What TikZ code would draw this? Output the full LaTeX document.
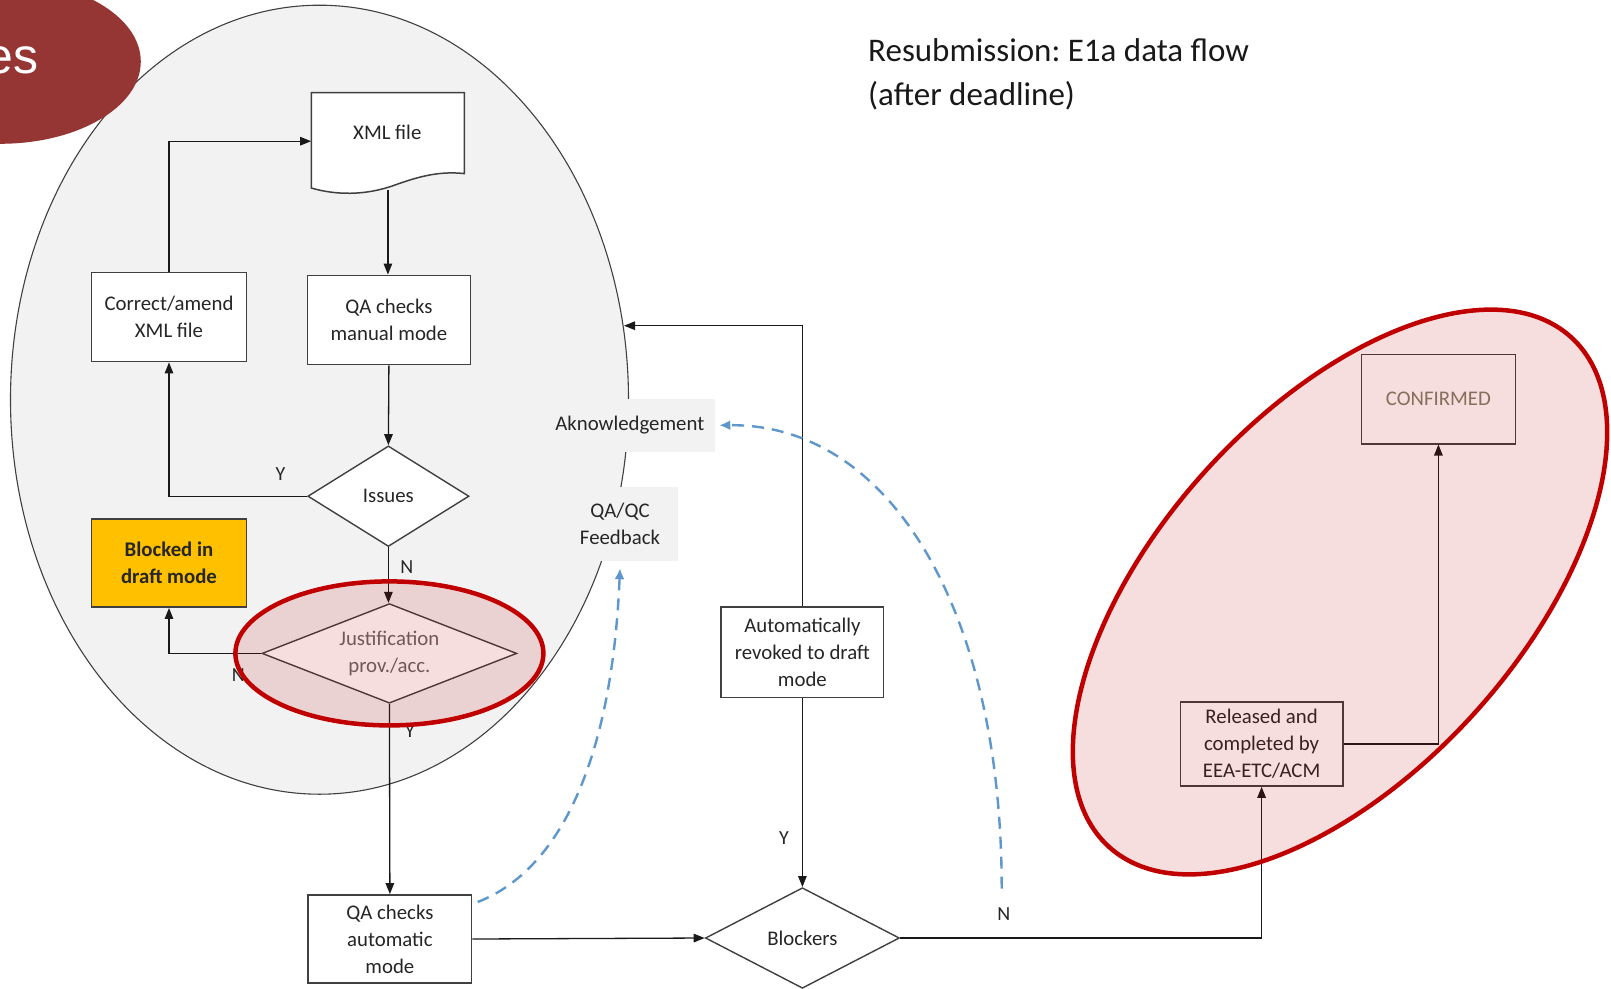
\documentclass[tikz,border=0pt]{standalone}
\usepackage{fontspec}
\setmainfont{Carlito}
\newfontfamily\arialfont{Liberation Sans}
\usetikzlibrary{arrows.meta,shapes.geometric}
\definecolor{ellgrey}{HTML}{F2F2F2}
\definecolor{edge}{HTML}{404040}
\definecolor{txt}{HTML}{262626}
\definecolor{darkred}{HTML}{C00000}
\definecolor{blob}{HTML}{963634}
\definecolor{amber}{HTML}{FFC000}
\definecolor{dashblue}{HTML}{5E97CB}
\definecolor{olivegrey}{HTML}{7F7F6A}
\frenchspacing
\begin{document}
\begin{tikzpicture}[x=1pt,y=-1pt,
 every node/.style={font=\fontsize{20.8}{27}\selectfont, text=txt},
 procbox/.style={draw=edge, line width=1.5pt, fill=white, align=center, inner sep=0pt},
 decision/.style={diamond, draw=edge, line width=1.4pt, fill=white, align=center, inner sep=0pt, aspect=2.5},
 conn/.style={draw=black!90, line width=1.3pt, -{Triangle[length=11pt,width=8.5pt]}},
 flag/.style={font=\fontsize{20}{24}\selectfont},
 tag/.style={fill=ellgrey, align=center, inner sep=0pt},
 feedback/.style={draw=dashblue, line width=2.4pt, dash pattern=on 12pt off 8pt, -{Latex[length=11pt,width=10pt]}},
 ring/.style={draw=darkred, line width=4.5pt, fill=darkred, fill opacity=0.13},
]
\useasboundingbox (0,0) rectangle (1611,988);
\clip (0,0) rectangle (1611,988);
\fill[white] (0,0) rectangle (1611,988);

% big grey region
\draw[fill=ellgrey, draw=edge, line width=1.1pt] (319.5,399.7) ellipse [x radius=309pt, y radius=394.5pt];

% red blob top-left
\fill[blob] (0,61.6) ellipse [x radius=140.8pt, y radius=82.2pt];
\node[anchor=east, inner sep=0pt, text=white, font=\arialfont\fontsize{50}{50}\selectfont] (blobtext) at (39,60) {es};

% title
\node[anchor=west, align=left, font=\fontsize{33}{44}\selectfont, text=black!90, inner sep=0pt] (title) at (868,74.5) {Resubmission: E1a data flow\\(after deadline)};

% XML document shape
\path[procbox] (311.3,92.5) -- (464.4,92.5) -- (464.4,173.6) .. controls (440,171) and (420,176) .. (395,185) .. controls (365,196) and (335,195) .. (311.3,188) -- cycle;
\node[inner sep=0pt, minimum width=153.1pt, minimum height=97.5pt] (xml) at (387.9,141.2) {};
\node (xmltext) at (387.3,132.5) {XML file};

% process boxes
\node[procbox, minimum width=155.2pt, minimum height=89.3pt] (correct) at (169,317) {Correct/amend\\XML file};
\node[procbox, minimum width=163.3pt, minimum height=89.4pt] (qam) at (388.9,320) {QA checks\\manual mode};
\node[decision, minimum width=161.2pt, minimum height=100.6pt] (issues) at (388.4,496.2) {Issues};
\node[procbox, fill=amber, minimum width=155.2pt, minimum height=88.4pt, font=\bfseries\fontsize{20.8}{27}\selectfont] (blocked) at (169,563) {Blocked in\\draft mode};
\node[decision, minimum width=254.8pt, minimum height=99.6pt, text=black!60] (just) at (389.4,653.4) {Justification\\prov./acc.};
\node[procbox, minimum width=163.4pt, minimum height=88.3pt] (qaa) at (389.9,939) {QA checks\\automatic\\mode};
\node[decision, minimum width=194pt, minimum height=100.6pt] (blockers) at (802.4,938) {Blockers};
\node[procbox, minimum width=162.4pt, minimum height=90.4pt] (revoked) at (802.4,652.4) {Automatically\\revoked to draft\\mode};
\node[procbox, minimum width=162.3pt, minimum height=84.3pt] (released) at (1261.6,743.9) {Released and\\completed by\\EEA-ETC/ACM};
\node[procbox, minimum width=154.1pt, minimum height=89.3pt, text=olivegrey] (confirmed) at (1438.4,399.1) {CONFIRMED};

% tags on the region border
\node[tag, minimum width=170.5pt, minimum height=53.4pt] (ack) at (629.8,425.3) {Aknowledgement};
\node[tag, minimum width=116pt, minimum height=74pt] (fb) at (620,524) {QA/QC\\Feedback};

% connectors
\draw[conn] (xml.south) -- (xml.south |- qam.north);
\draw[conn] (qam.south) -- (issues.north);
\draw[conn] (issues.west) -| (correct.south);
\draw[conn] (correct.north) |- (xml.west);
\draw[conn] (issues.south) -- (issues.south |- just.north);
\draw[conn] (just.west) -| (blocked.south);
\draw[conn] (just.south) -- (qaa.north);
\draw[conn] (qaa.east) -- (blockers.west);
\draw[conn] (revoked.south) -- (blockers.north);
\coordinate (ackpt) at (624,325.7);
\draw[conn] (revoked.north) |- (ackpt);
\draw[conn] (blockers.east) -| (released.south);
\draw[conn] (released.east) -| (confirmed.south);

% branch labels
\node[flag] (yissues) at (280.5,473.6) {Y};
\node[flag] (nissues) at (406.8,567) {N};
\node[flag] (njust) at (238.4,675) {N};
\node[flag] (yjust) at (410,731.5) {Y};
\node[flag] (yblock) at (784,838.4) {Y};
\node[flag] (nblock) at (1003.8,914.4) {N};

% dashed feedback arrows
\coordinate (fbstart) at (477.7,902);
\draw[feedback] (fbstart) .. controls (560,870) and (612,760) .. ([yshift=-7pt]fb.south);
\coordinate (ackstart) at (1001.7,888.7);
\draw[feedback] (ackstart) .. controls (1001.7,610) and (890,423.3) .. ([xshift=4pt]ack.east);

% highlight rings
\draw[ring] (389.4,653.4) ellipse [x radius=154pt, y radius=72pt];
\draw[ring, rotate around={47.8:(1340,592)}] (1340,592) ellipse [x radius=344pt, y radius=181pt];
\end{tikzpicture}
\end{document}
